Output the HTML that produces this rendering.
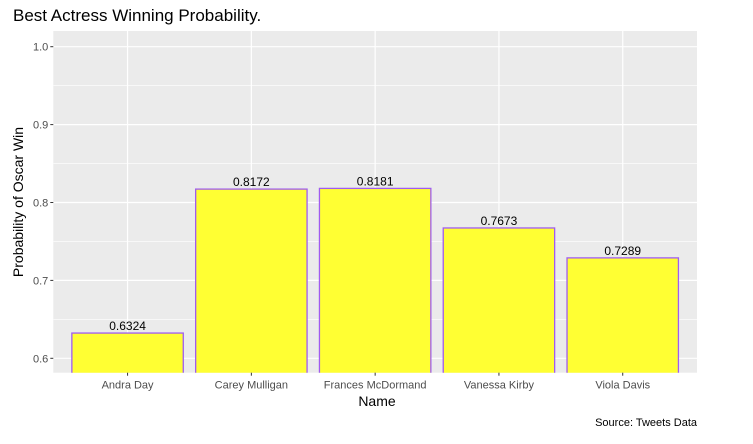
<!DOCTYPE html>
<html><head><meta charset="utf-8"><style>
body{margin:0;background:#fff;font-family:"Liberation Sans",Arial,sans-serif}
</style></head><body>
<svg id="c" width="753" height="439" xmlns="http://www.w3.org/2000/svg">
<text x="13" y="21" font-size="17" fill="#000">Best Actress Winning Probability.</text>
<rect x="53.3" y="31" width="643.7" height="341.7" fill="#ebebeb"/>
<g id="grid"></g><g id="bars"></g><g id="axes"></g>
<text x="377" y="406" font-size="14" text-anchor="middle" fill="#000">Name</text>
<text transform="translate(23,202) rotate(-90)" font-size="14" text-anchor="middle" fill="#000">Probability of Oscar Win</text>
<text x="697" y="426" font-size="11" text-anchor="end" fill="#000">Source: Tweets Data</text>
</svg>
<script>
const categories=["Andra Day","Carey Mulligan","Frances McDormand","Vanessa Kirby","Viola Davis"];
const values=[0.6324,0.8172,0.8181,0.7673,0.7289];
const yTicks=[0.6,0.7,0.8,0.9,1.0];
const ns="http://www.w3.org/2000/svg";
const L=53.3,R=697,T=31,B=372.7;
const y=v=>358.3-(v-0.6)*779;
const band=(R-L)/(categories.length+0.2);
const x=i=>L+band*(0.6+i);
function mk(t,a,p){const e=document.createElementNS(ns,t);for(const k in a)e.setAttribute(k,a[k]);p.appendChild(e);return e;}
const g=document.getElementById('grid'),bs=document.getElementById('bars'),ax=document.getElementById('axes');
yTicks.forEach((v,i)=>{
 if(i<yTicks.length-1){const m=mk('line',{x1:L,x2:R,y1:y(v+0.05),y2:y(v+0.05),stroke:'#fff','stroke-width':0.6},g);
 }
 const l=mk('line',{x1:L,x2:R,y1:y(v),y2:y(v),stroke:'#fff','stroke-width':1.2},g);
 
 const tk=mk('line',{x1:L-3,x2:L,y1:y(v),y2:y(v),stroke:'#333','stroke-width':1},ax);
 
 const t=mk('text',{x:L-5,y:y(v)+4,'font-size':11,'text-anchor':'end',fill:'#4d4d4d'},ax);t.textContent=v.toFixed(1);
 
});
categories.forEach((c,i)=>{
 const cx=x(i);
 const vl=mk('line',{x1:cx,x2:cx,y1:T,y2:B,stroke:'#fff','stroke-width':1.2},g);
 
 const w=band*0.9,top=y(values[i]);
 const r=mk('rect',{x:cx-w/2,y:top,width:w,height:B-top+2,fill:'#ffff33',stroke:'#a05cf0','stroke-width':1.3},bs);
 
 const lb=mk('text',{x:cx,y:top-3,'font-size':12,'text-anchor':'middle',fill:'#000'},bs);lb.textContent=values[i].toFixed(4);
 
 const tk=mk('line',{x1:cx,x2:cx,y1:B,y2:B+3,stroke:'#333','stroke-width':1},ax);
 
 const t=mk('text',{x:cx,y:B+16,'font-size':11,'text-anchor':'middle',fill:'#4d4d4d'},ax);t.textContent=c;
 
});
// clip bars at panel bottom
const cp=mk('clipPath',{id:'cp'},document.getElementById('c'));mk('rect',{x:0,y:0,width:753,height:B},cp);
bs.setAttribute('clip-path','url(#cp)');
</script>
</body></html>
